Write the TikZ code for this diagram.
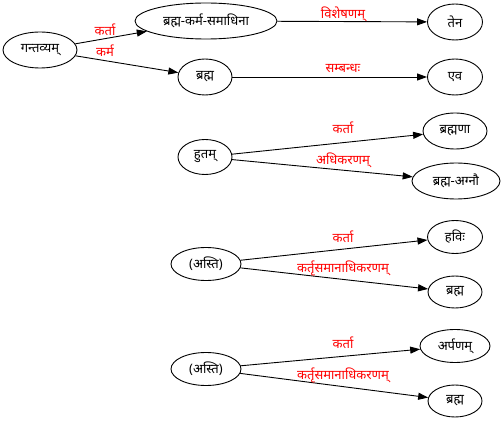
\documentclass[tikz,border=0pt]{standalone}
\usepackage{fontspec}
\setmainfont[Script=Devanagari]{Noto Sans}
\usetikzlibrary{shapes.geometric,arrows.meta}

\begin{document}
\begin{tikzpicture}[x=1pt,y=-1pt,
        word/.style={ellipse,draw,line width=0.9pt,inner sep=0pt,
            minimum height=36pt,font=\fontsize{13}{15}\selectfont},
        rel/.style={line width=0.9pt,-{Triangle[length=10pt,width=7pt]}},
        lbl/.style={text=red,inner sep=0pt,font=\fontsize{13}{15}\selectfont}]
    \useasboundingbox (0,0) rectangle (501,422);
    % first sentence
    \node[word,minimum width=74pt] (gantavyam) at (40,50) {गन्तव्यम्};
    \node[word,minimum width=142pt] (samadhina) at (206,21) {ब्रह्म-कर्म-समाधिना};
    \node[word,minimum width=55pt] (tena) at (455,22) {तेन};
    \node[word,minimum width=54pt] (brahma) at (205,77) {ब्रह्म};
    \node[word,minimum width=55pt] (eva) at (455,77) {एव};
    \draw[rel] (gantavyam) -- (samadhina);
    \draw[rel] (gantavyam) -- (brahma);
    \draw[rel] (samadhina) -- (tena);
    \draw[rel] (brahma) -- (eva);
    \node[lbl] (l1) at (105,30) {कर्ता};
    \node[lbl] (l2) at (105,51) {कर्म};
    \node[lbl] (l3) at (343,14) {विशेषणम्};
    \node[lbl] (l4) at (343,68) {सम्बन्धः};
    % second sentence
    \node[word,minimum width=54pt,minimum height=35pt] (hutam) at (205,157) {हुतम्};
    \node[word,minimum width=64pt] (brahmana) at (455,131) {ब्रह्मणा};
    \node[word,minimum width=88pt] (agnau) at (456,181) {ब्रह्म-अग्नौ};
    \draw[rel] (hutam) -- (brahmana);
    \draw[rel] (hutam) -- (agnau);
    \node[lbl] (l5) at (343,128) {कर्ता};
    \node[lbl] (l6) at (343,160) {अधिकरणम्};
    % third sentence
    \node[word,minimum width=70pt,minimum height=33pt] (asti) at (206,264) {(अस्ति)};
    \node[word,minimum width=55pt,minimum height=33pt] (havih) at (455,237) {हविः};
    \node[word,minimum width=54pt,minimum height=32pt] (brahmb) at (455,292) {ब्रह्म};
    \draw[rel] (asti) -- (havih);
    \draw[rel] (asti) -- (brahmb);
    \node[lbl] (l7) at (343,237) {कर्ता};
    \node[lbl] (l8) at (343,268) {कर्तृसमानाधिकरणम्};
    % fourth sentence
    \node[word,minimum width=70pt,minimum height=33pt] (astib) at (206,369) {(अस्ति)};
    \node[word,minimum width=70pt,minimum height=33pt] (arpanam) at (455,346) {अर्पणम्};
    \node[word,minimum width=54pt,minimum height=32pt] (brahmc) at (455,401) {ब्रह्म};
    \draw[rel] (astib) -- (arpanam);
    \draw[rel] (astib) -- (brahmc);
    \node[lbl] (l9) at (343,343) {कर्ता};
    \node[lbl] (l10) at (343,375) {कर्तृसमानाधिकरणम्};
\end{tikzpicture}
\end{document}
